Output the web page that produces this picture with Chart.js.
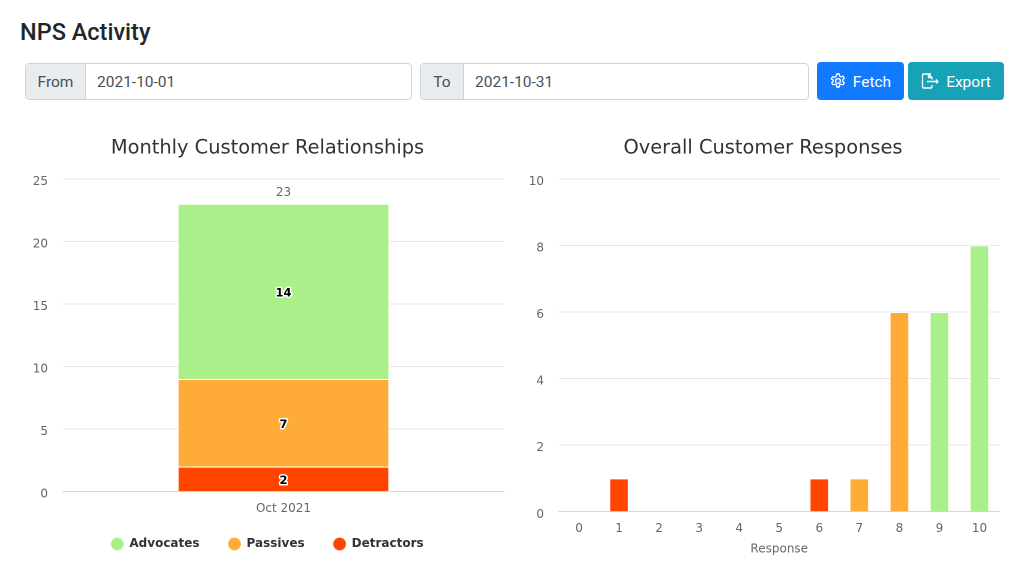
<!DOCTYPE html>
<html><head><meta charset="utf-8">
<script src="https://cdn.jsdelivr.net/npm/chart.js@4"></script>
<style>
html,body{margin:0;padding:0;background:#fff;width:1024px;height:579px;overflow:hidden;font-family:Roboto,sans-serif}
h1{position:absolute;left:20px;top:17px;margin:0;font:500 23.500px/30px Roboto,sans-serif;color:#212529}
.g{position:absolute;top:63px;height:35px;border:1px solid #ced4da;border-radius:4px;display:flex;background:#fff;font-size:15.500px;line-height:37px;color:#495057;box-sizing:content-box}
.g b{font-weight:400;background:#e9ecef;border-right:1px solid #ced4da;text-align:center;border-radius:3px 0 0 3px}
.g span{padding-left:11px}
.btn{position:absolute;top:62px;height:38px;border-radius:4px;color:#fff;font-size:15.500px;display:flex;align-items:center;justify-content:center;gap:7px}
.btn span{position:relative;top:1px}
canvas{position:absolute;top:130px}
</style></head><body>
<h1>NPS Activity</h1>
<div class="g" style="left:25px;width:385px"><b style="width:59px">From</b><span>2021-10-01</span></div>
<div class="g" style="left:420px;width:387px"><b style="width:42px">To</b><span>2021-10-31</span></div>
<div class="btn" style="left:817px;width:87px;background:#117aff">
<svg width="16" height="16" viewBox="0 0 16 16" fill="none" stroke="#fff" stroke-width="1.3"><circle cx="8" cy="8" r="2.4"/><path d="M6.8 1h2.4l.4 2 1.6.9 1.9-.7 1.2 2.1-1.5 1.3v1.8l1.5 1.3-1.2 2.1-1.9-.7-1.6.9-.4 2H6.8l-.4-2-1.6-.9-1.9.7-1.2-2.1 1.5-1.3V7.1L1.300 5.800l1.200-2.100 1.900.7 1.600-.9z"/></svg><span>Fetch</span></div>
<div class="btn" style="left:908px;width:96px;background:#17a2b8">
<svg width="18" height="16" viewBox="0 0 18 16" fill="none" stroke="#fff" stroke-width="1.3"><path d="M10 1H2.500A1 1 0 0 0 1.500 2v12a1 1 0 0 0 1 1H10a1 1 0 0 0 1-1v-2M7.500 1l3.500 3.500V6.500M7.500 1v3.500H11M6 8.500h11M15 6.500l2 2-2 2"/></svg><span>Export</span></div>
<canvas id="c1" style="left:0"></canvas>
<canvas id="c2" style="left:512px"></canvas>
<script>
const months=['Oct 2021'];
const advocates=[14];
const passives=[7];
const detractors=[2];
const totals=[23];
const responses=['0','1','2','3','4','5','6','7','8','9','10'];
const responseCounts=[0,1,0,0,0,0,1,1,6,6,8];
const GREEN='#a9ef8a',ORANGE='#ffab38',RED='#ff4500';
const responseColors=[RED,RED,RED,RED,RED,RED,RED,ORANGE,ORANGE,GREEN,GREEN];
const FONT='"DejaVu Sans",sans-serif';
const TXT='#666',GRID='#e6e6e6',AXIS='#ccd6eb';
const labels={id:'labels',
 afterLayout(ch){ch.legend.top-=9;},
 afterDatasetsDraw(ch){
  const c=ch.ctx;c.save();c.textAlign='center';c.textBaseline='middle';
  c.font='bold 11.500px '+FONT;c.lineJoin='round';
  ch.data.datasets.forEach((d,i)=>{ch.getDatasetMeta(i).data.forEach((b,j)=>{
    const y=(b.y+b.base)/2+2;
    c.strokeStyle='#fff';c.lineWidth=3;c.strokeText(d.data[j],b.x,y);
    c.fillStyle='#000';c.fillText(d.data[j],b.x,y);
  });});
  const m=ch.getDatasetMeta(ch.data.datasets.length-1).data[0];
  c.font='12px '+FONT;c.fillStyle=TXT;
  c.fillText(totals[0],m.x,ch.scales.y.getPixelForValue(totals[0])-11);
  c.restore();
}};
function base(title,pl,axisW,right,bottom,yMax,step){return {
  responsive:false,animation:false,devicePixelRatio:2,
  layout:{padding:{left:pl,right:right,top:0,bottom:bottom}},
  plugins:{tooltip:{enabled:false},
    title:{display:true,text:title,color:'#333',font:{family:FONT,size:19.400,weight:'normal'},padding:{top:7,bottom:18.500}},
    legend:{display:false}},
  scales:{
    x:{stacked:true,grid:{display:false},border:{color:AXIS},ticks:{color:TXT,font:{family:FONT,size:12},padding:2,maxRotation:0,autoSkip:false}},
    y:{stacked:true,min:0,max:yMax,grid:{color:GRID,drawTicks:false},border:{display:false},
      afterFit(s){s.width=axisW;},
      ticks:{stepSize:step,color:TXT,font:{family:FONT,size:12},padding:15,labelOffset:3}}
  }};}
const o1=base('Monthly Customer Relationships',31,32,8,10,25,5);
o1.plugins.legend={display:true,position:'bottom',reverse:true,labels:{usePointStyle:true,pointStyle:'circle',boxWidth:12,boxHeight:9.500,padding:29,color:'#333',font:{family:FONT,size:12,weight:'bold'}}};
const bar={categoryPercentage:1,borderWidth:1,borderColor:'rgba(255,255,255,.7)'};
const cv1=document.getElementById('c1');cv1.width=512;cv1.height=449;
new Chart(cv1,{type:'bar',plugins:[labels],data:{labels:months,datasets:[
  {label:'Detractors',data:detractors,backgroundColor:RED,barPercentage:.48,...bar},
  {label:'Passives',data:passives,backgroundColor:ORANGE,barPercentage:.48,...bar},
  {label:'Advocates',data:advocates,backgroundColor:GREEN,barPercentage:.48,...bar}]},options:o1});
const o2=base('Overall Customer Responses',14.500,32.500,24.500,22.500,10,2);
o2.scales.x.title={display:true,text:'Response',color:TXT,font:{family:FONT,size:12},padding:{top:4,bottom:0}};
const cv2=document.getElementById('c2');cv2.width=512;cv2.height=449;
new Chart(cv2,{type:'bar',data:{labels:responses,datasets:[
  {label:'Responses',data:responseCounts,backgroundColor:responseColors,barPercentage:.49,...bar}]},options:o2});
</script></body></html>
